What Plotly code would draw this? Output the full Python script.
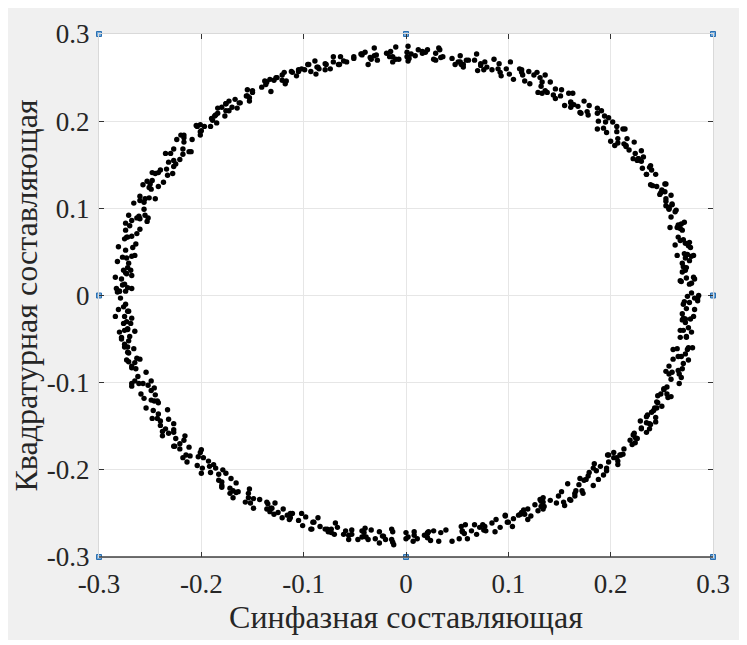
import numpy as np
import plotly.graph_objects as go

# In-phase / quadrature samples, in thousandths (quadrant by quadrant)
q1_i = [282,285,279,286,277,269,274,268,279,282,274,270,273,281,277,270,272,271,279,265,
        273,281,275,278,268,263,273,276,271,277,268,266,269,258,265,270,272,266,264,259,
        257,254,257,254,260,263,260,257,248,253,259,254,249,241,253,250,254,239,244,245,
        235,238,231,239,240,235,230,227,227,224,232,222,230,226,218,215,216,213,223,215,
        207,204,207,200,206,214,206,212,196,193,198,202,195,187,187,194,187,188,177,191,
        178,170,171,168,174,179,164,161,161,155,159,161,152,163,151,146,138,144,141,146,
        136,133,132,129,133,136,131,128,116,121,125,120,113,105,114,111,113,98,101,102,
        90,93,84,92,91,86,79,76,73,70,77,67,73,69,59,56,56,53,61,53,
        51,54,45,48,36,33,29,32,34,29,16,21,19,27,9,12,1,16,3,2]
q1_q = [-3,-6,3,0,13,16,20,17,14,19,32,27,29,21,40,37,48,33,45,46,
        43,46,47,55,63,58,60,57,64,61,77,67,82,78,78,75,84,81,98,90,
        100,103,101,108,104,96,105,99,116,119,115,111,118,126,128,121,128,127,139,125,
        139,147,146,149,144,139,154,157,157,163,159,157,166,155,167,172,180,174,176,171,
        175,172,180,177,188,191,194,191,187,192,204,199,199,191,209,206,215,200,211,212,
        207,210,209,217,223,218,219,216,221,218,232,222,236,232,229,226,233,230,245,237,
        235,232,240,233,245,253,250,256,246,243,253,257,256,248,253,260,259,260,254,268,
        260,252,259,256,266,271,262,259,264,258,268,270,266,277,270,265,262,268,270,275,
        268,265,272,265,274,282,278,284,273,270,278,282,279,271,275,282,279,280,272,286]

q2_i = [5,2,1,-7,-15,-10,-13,-10,-16,-13,-29,-19,-35,-31,-31,-28,-37,-34,-51,-43,
        -43,-40,-51,-44,-58,-66,-65,-71,-64,-61,-74,-78,-79,-71,-79,-86,-88,-89,-85,-99,
        -95,-87,-96,-93,-107,-112,-105,-102,-111,-105,-117,-119,-118,-129,-126,-121,-121,-127,-132,-137,
        -136,-133,-141,-138,-150,-153,-156,-153,-150,-155,-167,-162,-163,-155,-173,-170,-180,-165,-176,-177,
        -173,-176,-176,-184,-190,-185,-187,-184,-189,-186,-201,-191,-205,-201,-200,-197,-204,-201,-217,-209,
        -217,-220,-217,-224,-218,-210,-218,-212,-227,-230,-225,-221,-227,-235,-234,-227,-233,-232,-242,-228,
        -240,-248,-245,-248,-242,-237,-250,-253,-251,-257,-251,-249,-256,-245,-255,-260,-266,-260,-261,-256,
        -255,-252,-260,-253,-263,-271,-268,-274,-263,-260,-270,-274,-272,-264,-268,-275,-273,-274,-267,-281,
        -273,-265,-271,-268,-277,-282,-272,-269,-274,-268,-276,-278,-273,-284,-277,-272,-268,-274,-275,-280]
q2_q = [277,269,274,271,280,285,274,271,274,268,276,278,273,284,275,270,265,271,272,277,
        276,279,274,277,268,265,265,268,274,269,260,265,266,274,259,262,254,269,260,259,
        265,262,265,257,252,257,257,260,256,259,246,256,243,247,250,253,247,250,234,242,
        245,248,239,246,235,227,229,223,233,236,225,221,221,229,223,216,216,215,220,206,
        212,220,212,215,203,198,206,209,201,207,196,194,195,184,189,194,194,188,184,179,
        181,184,176,179,168,165,162,165,168,163,151,156,155,163,145,148,138,153,141,140,
        144,141,140,132,125,130,128,131,124,127,112,122,107,111,111,114,106,109,91,99,
        92,89,88,85,89,92,86,83,71,76,80,75,67,59,68,65,67,52,55,56,
        43,46,37,45,44,39,32,29,26,23,29,19,25,21,12,9,8,5,13,5]

q3_i = [-280,-283,-279,-282,-274,-271,-272,-275,-281,-276,-268,-273,-276,-284,-269,-272,-265,-280,-272,-271,
        -278,-275,-278,-270,-266,-271,-272,-275,-272,-275,-263,-273,-260,-264,-268,-271,-265,-268,-254,-262,
        -265,-268,-261,-268,-257,-249,-252,-246,-256,-259,-249,-245,-246,-254,-249,-242,-243,-242,-247,-233,
        -240,-248,-240,-243,-232,-227,-235,-238,-232,-238,-227,-225,-227,-216,-221,-226,-227,-221,-217,-212,
        -215,-218,-211,-214,-203,-200,-198,-201,-204,-199,-188,-193,-192,-200,-183,-186,-176,-191,-180,-179,
        -183,-180,-180,-172,-166,-171,-169,-172,-166,-169,-154,-164,-149,-153,-154,-157,-149,-152,-135,-143,
        -136,-133,-132,-129,-133,-136,-131,-128,-116,-121,-125,-120,-113,-105,-114,-111,-113,-98,-101,-102,
        -90,-93,-84,-92,-91,-86,-79,-76,-73,-70,-77,-67,-73,-69,-59,-56,-56,-53,-61,-53,
        -43,-40,-41,-34,-39,-47,-37,-43,-26,-23,-26,-30,-22,-14,-13,-20,-12,-13,0,-14]
q3_q = [5,8,-3,4,-10,-18,-18,-24,-16,-13,-26,-30,-32,-24,-32,-39,-41,-42,-38,-52,
        -48,-40,-50,-47,-61,-66,-59,-56,-65,-59,-72,-74,-73,-84,-81,-76,-77,-83,-88,-93,
        -98,-101,-101,-104,-101,-98,-103,-106,-118,-113,-109,-114,-121,-129,-120,-123,-121,-136,-132,-131,
        -144,-141,-149,-141,-142,-147,-153,-156,-158,-161,-154,-164,-157,-161,-170,-173,-173,-176,-166,-174,
        -183,-186,-184,-191,-185,-177,-186,-180,-195,-198,-194,-190,-196,-204,-205,-198,-204,-203,-214,-200,
        -212,-220,-218,-221,-215,-210,-224,-227,-226,-232,-227,-225,-233,-222,-232,-237,-244,-238,-239,-234,
        -245,-248,-244,-251,-245,-237,-244,-238,-252,-255,-249,-245,-250,-258,-257,-250,-255,-254,-264,-250,
        -260,-268,-265,-268,-260,-255,-268,-271,-268,-274,-268,-266,-272,-261,-270,-275,-280,-274,-274,-269,
        -270,-267,-272,-269,-277,-280,-280,-277,-271,-276,-284,-279,-276,-268,-283,-280,-286,-271,-279,-280]

q4_i = [0,8,8,11,7,2,18,21,21,27,24,22,32,21,34,39,45,54,
        55,58,55,52,57,60,72,67,64,69,76,84,75,78,77,92,88,87,
        100,97,105,97,99,104,110,113,116,119,112,122,115,119,129,132,132,135,126,134,
        134,131,141,134,147,155,154,160,152,149,161,165,166,158,165,172,173,174,169,183,
        178,170,179,176,188,193,186,183,190,184,196,198,196,207,203,198,197,203,207,212,
        209,206,213,210,221,224,226,223,219,224,235,230,230,222,238,235,244,229,239,240,
        235,238,236,244,250,245,245,242,246,243,256,246,259,255,252,249,255,252,267,259,
        257,254,260,257,266,269,270,267,261,266,276,271,269,261,276,273,280,265,274,275,
        268,271,268,276,279,274,273,270,273,270,281,271,282,278,274,271,275,272,285,277]
q4_q = [-272,-275,-271,-279,-282,-277,-275,-272,-273,-270,-281,-271,-282,-278,-272,-269,-282,-265,
        -270,-263,-271,-279,-273,-279,-266,-263,-270,-274,-269,-261,-263,-270,-265,-266,-257,-271,
        -260,-252,-256,-253,-260,-265,-252,-249,-251,-245,-251,-253,-246,-257,-247,-242,-236,-242,-240,-245,
        -237,-234,-235,-232,-238,-241,-237,-234,-225,-230,-235,-230,-224,-216,-227,-224,-227,-212,-217,-218,
        -207,-210,-203,-211,-211,-206,-201,-198,-196,-193,-201,-191,-198,-194,-186,-183,-183,-180,-190,-182,
        -183,-186,-176,-183,-171,-163,-164,-158,-166,-169,-157,-153,-152,-160,-153,-146,-145,-144,-148,-134,
        -139,-147,-137,-140,-127,-122,-129,-132,-123,-129,-117,-115,-116,-105,-108,-113,-113,-107,-101,-96,
        -90,-87,-88,-81,-86,-94,-84,-90,-73,-70,-74,-78,-70,-62,-60,-67,-60,-61,-48,-62,
        -48,-40,-40,-37,-42,-47,-31,-28,-27,-21,-24,-26,-16,-27,-15,-10,-1,-7,-3,-8]

# Reference constellation markers shown in blue
ref_i = [-0.3, 0.0, 0.3, -0.3, 0.3, -0.3, 0.0, 0.3]
ref_q = [0.3, 0.3, 0.3, 0.0, 0.0, -0.3, -0.3, -0.3]

tick_vals = [-0.3, -0.2, -0.1, 0.0, 0.1, 0.2, 0.3]
tick_text = ["-0.3", "-0.2", "-0.1", "0", "0.1", "0.2", "0.3"]

for a, b in [(q1_i, q1_q), (q2_i, q2_q), (q3_i, q3_q), (q4_i, q4_q)]:
    assert len(a) == len(b), (len(a), len(b))

inphase = np.array(q1_i + q2_i + q3_i + q4_i) / 1000.0
quad = np.array(q1_q + q2_q + q3_q + q4_q) / 1000.0

FONT = "Liberation Serif"
TXT = "#262626"

fig = go.Figure()
fig.add_trace(go.Scatter(
    x=inphase, y=quad, mode="markers",
    marker=dict(color="black", size=5.4, line=dict(width=0)),
    hoverinfo="skip", showlegend=False))
fig.add_trace(go.Scatter(
    x=ref_i, y=ref_q, mode="markers", cliponaxis=False,
    marker=dict(color="#6fa8dc", size=5, symbol="square",
                line=dict(color="#2a6fb0", width=1)),
    hoverinfo="skip", showlegend=False))

fig.update_layout(
    width=732, height=632,
    margin=dict(l=91, r=27, t=26, b=83),
    paper_bgcolor="#f0f0f0", plot_bgcolor="white",
    font=dict(family=FONT, color=TXT, size=27),
    shapes=[
        dict(type="line", xref="paper", yref="paper", layer="above",
             x0=0, x1=1, y0=0, y1=0, line=dict(color="#404040", width=1.3)),
    ],
)

axis_common = dict(
    range=[-0.3, 0.3], tickmode="array", tickvals=tick_vals, ticktext=tick_text,
    showgrid=True, gridcolor="#e6e6e6", gridwidth=1,
    zeroline=False, automargin=False,
    showline=True, linecolor="#d9d9d9", linewidth=1, mirror="ticks",
    ticks="inside", ticklen=5, tickcolor="#333333", tickwidth=1,
    tickfont=dict(family=FONT, size=27, color=TXT),
    fixedrange=True,
)
fig.update_xaxes(**axis_common, ticklabelstandoff=3,
                 title=dict(text="Синфазная составляющая",
                            font=dict(family=FONT, size=32, color=TXT), standoff=7))
fig.update_yaxes(**axis_common, ticklabelstandoff=3,
                 title=dict(text="Квадратурная составляющая",
                            font=dict(family=FONT, size=32, color=TXT), standoff=5))

fig.write_html("out.html")
